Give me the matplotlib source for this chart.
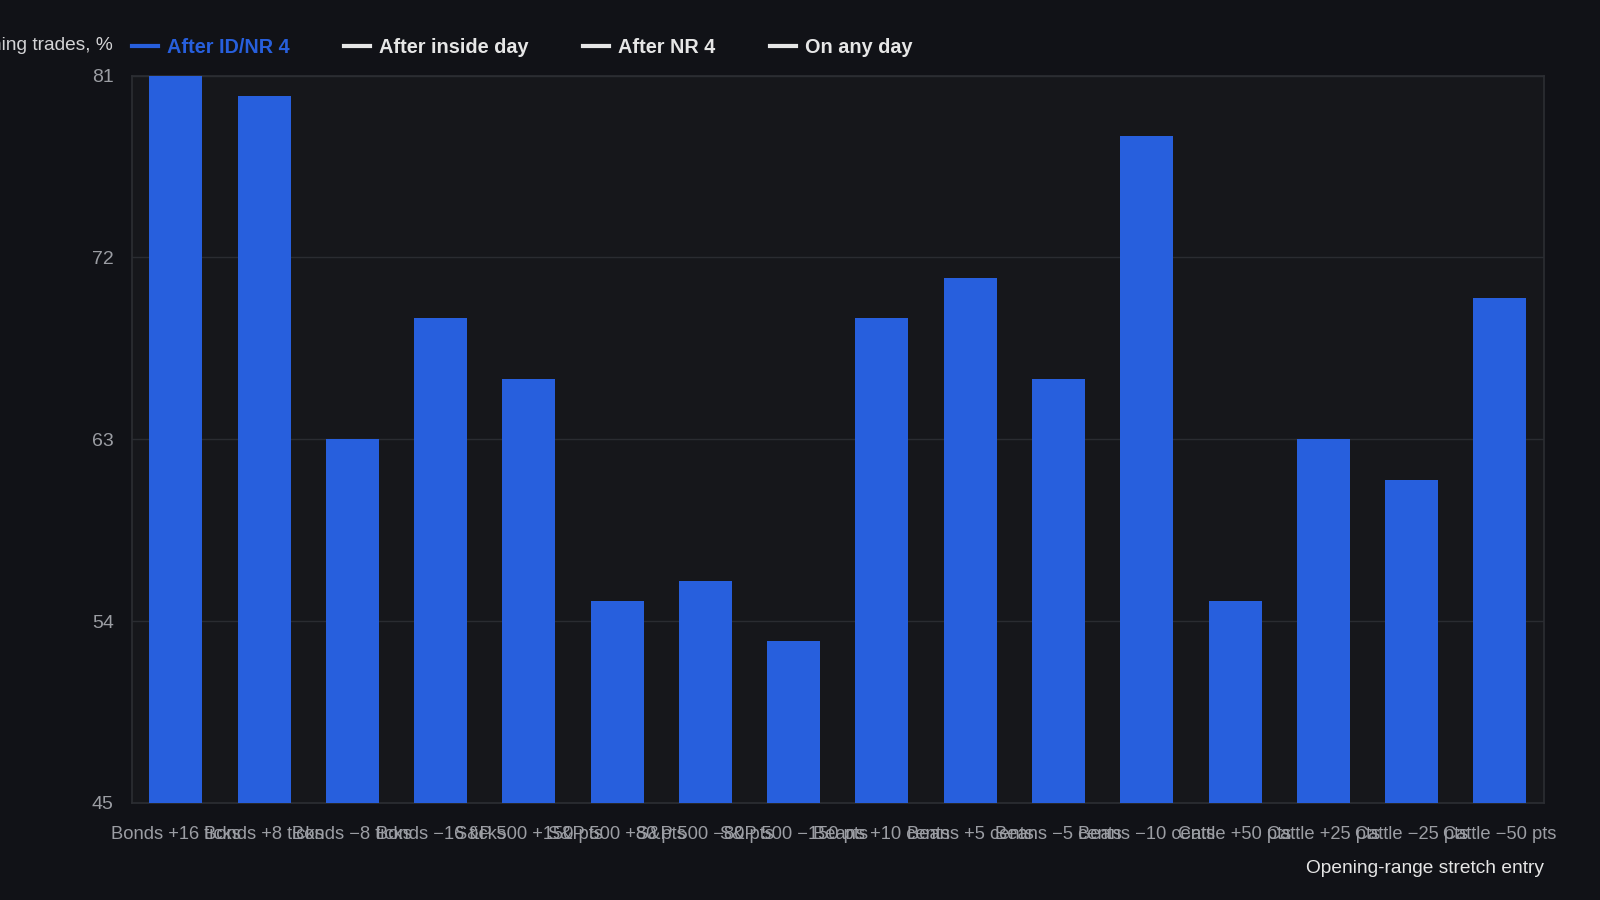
import numpy as np
import matplotlib.pyplot as plt
from matplotlib.lines import Line2D

plt.rcParams['font.family'] = ['Liberation Sans', 'DejaVu Sans']

# chart data
entries = ['Bonds +16 ticks', 'Bonds +8 ticks', 'Bonds \u22128 ticks', 'Bonds \u221216 ticks',
           'S&P 500 +150 pts', 'S&P 500 +80 pts', 'S&P 500 \u221280 pts', 'S&P 500 \u2212150 pts',
           'Beans +10 cents', 'Beans +5 cents', 'Beans \u22125 cents', 'Beans \u221210 cents',
           'Cattle +50 pts', 'Cattle +25 pts', 'Cattle \u221225 pts', 'Cattle \u221250 pts']
after_id_nr4 = [81, 80, 63, 69, 66, 55, 56, 53, 69, 71, 66, 78, 55, 63, 61, 70]
series_names = ['After ID/NR 4', 'After inside day', 'After NR 4', 'On any day']
yticks = [45, 54, 63, 72, 81]

fig_bg = '#111217'
ax_bg = '#16171b'
blue = '#275fdd'
light = '#e6e6e6'
grey = '#9b9da3'

fig = plt.figure(figsize=(16, 9), dpi=100, facecolor=fig_bg)
ax = fig.add_axes([0.0823, 0.108, 0.965 - 0.0823, 0.916 - 0.108])
ax.set_facecolor(ax_bg)

x = np.arange(len(entries))
ax.bar(x, after_id_nr4, width=0.6, color=blue, zorder=3)

ax.set_xlim(-0.5, len(entries) - 0.5)
ax.set_ylim(45, 81)
ax.set_yticks(yticks)
ax.set_xticks(x)
ax.set_xticklabels(entries)
ax.tick_params(axis='x', length=0, pad=17, labelsize=13.2, labelcolor=grey)
ax.tick_params(axis='y', length=0, pad=13, labelsize=14, labelcolor=grey)
ax.grid(axis='y', color='#2a2c31', linewidth=1, zorder=0)
for s in ax.spines.values():
    s.set_color('#2c2e33')
    s.set_linewidth(1.2)

fig.text(113 / 1600, 0.949, 'Winning trades, %', ha='right', va='center',
         fontsize=13.8, color='#d4d4d6')
fig.text(0.965, 0.035, 'Opening-range stretch entry', ha='right', va='center',
         fontsize=13.8, color=light)

handles = [Line2D([], [], color=blue, lw=3)] + \
          [Line2D([], [], color=light, lw=3) for _ in series_names[1:]]
leg = fig.legend(handles, series_names, loc='center left', bbox_to_anchor=(0.0715, 0.947),
                 ncol=4, frameon=False, handlelength=1.3, handletextpad=0.45,
                 columnspacing=2.75, prop={'weight': 'bold', 'size': 14.3})
for i, t in enumerate(leg.get_texts()):
    t.set_color(blue if i == 0 else light)

fig.savefig('out.png', dpi=100, facecolor=fig_bg)
